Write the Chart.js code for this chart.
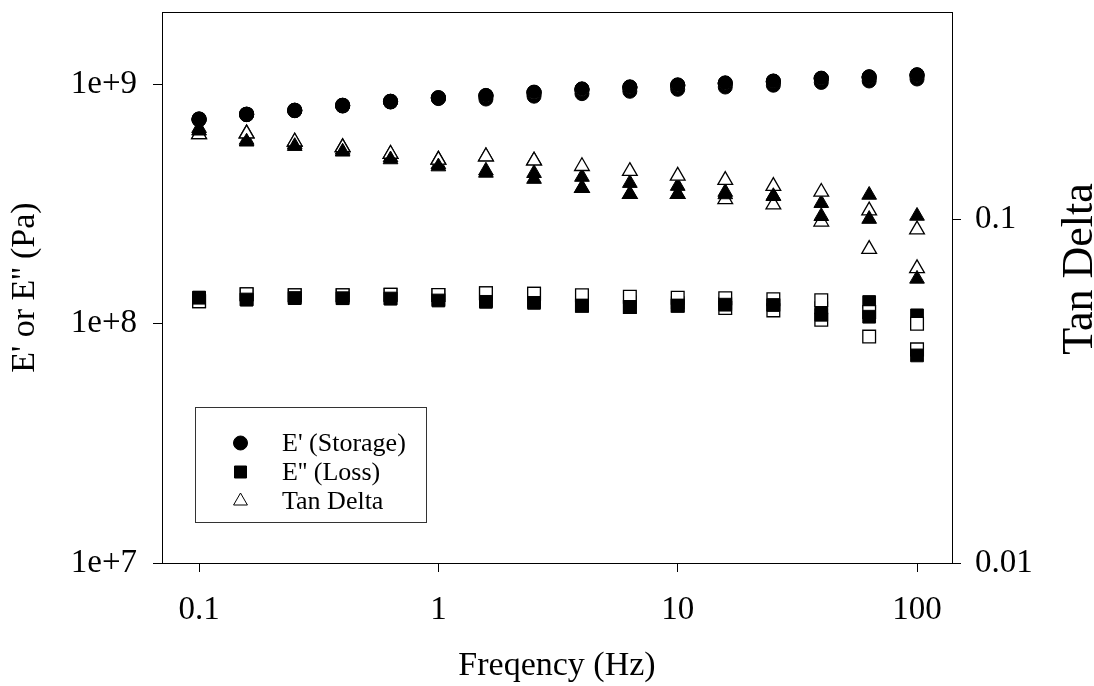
<!DOCTYPE html>
<html>
<head>
<meta charset="utf-8">
<script src="https://cdn.jsdelivr.net/npm/chart.js@4.4.0/dist/chart.umd.min.js"></script>
<style>
  html, body { margin: 0; padding: 0; background: #fff; }
  #wrap { width: 1094px; height: 686px; }
</style>
</head>
<body>
<div id="wrap"><canvas id="chart" width="1094" height="686"></canvas></div>
<script>
// frequency sweep (Hz), 5 points per decade
const freq = [0.1, 0.158, 0.251, 0.398, 0.631, 1, 1.58, 2.51, 3.98, 6.31, 10, 15.8, 25.1, 39.8, 63.1, 100];

// E' storage modulus (Pa), four runs
const storA = [7.10e8, 7.45e8, 7.74e8, 8.10e8, 8.42e8, 8.70e8, 8.66e8, 8.90e8, 9.12e8, 9.33e8, 9.51e8, 9.72e8, 9.89e8, 1.016e9, 1.030e9, 1.050e9];
const storB = [7.13e8, 7.48e8, 7.77e8, 8.14e8, 8.46e8, 8.76e8, 8.93e8, 9.21e8, 9.50e8, 9.69e8, 9.88e8, 1.007e9, 1.025e9, 1.054e9, 1.068e9, 1.089e9];
const storC = [7.13e8, 7.48e8, 7.77e8, 8.14e8, 8.46e8, 8.76e8, 8.93e8, 9.21e8, 9.50e8, 9.69e8, 9.88e8, 1.007e9, 1.025e9, 1.054e9, 1.068e9, 1.089e9];
const storD = [7.14e8, 7.49e8, 7.78e8, 8.15e8, 8.47e8, 8.77e8, 8.97e8, 9.26e8, 9.55e8, 9.74e8, 9.93e8, 1.012e9, 1.030e9, 1.059e9, 1.073e9, 1.094e9];

// E'' loss modulus (Pa)
const lossA = [1.282e8, 1.260e8, 1.278e8, 1.276e8, 1.272e8, 1.260e8, 1.245e8, 1.240e8, 1.250e8, 1.230e8, 1.222e8, 1.215e8, 1.195e8, 1.164e8, 1.230e8, 1.082e8];
const lossB = [1.238e8, 1.325e8, 1.312e8, 1.312e8, 1.320e8, 1.316e8, 1.338e8, 1.332e8, 1.312e8, 1.295e8, 1.282e8, 1.275e8, 1.263e8, 1.252e8, 1.117e8, 9.98e7];
const lossC = [1.238e8, 1.325e8, 1.312e8, 1.312e8, 1.320e8, 1.316e8, 1.338e8, 1.332e8, 1.187e8, 1.172e8, 1.187e8, 1.161e8, 1.135e8, 1.037e8, 8.82e7, 7.80e7];
const lossD = [1.282e8, 1.260e8, 1.278e8, 1.276e8, 1.272e8, 1.248e8, 1.232e8, 1.220e8, 1.187e8, 1.172e8, 1.187e8, 1.199e8, 1.195e8, 1.088e8, 1.068e8, 7.36e7];

// tan delta
const tanA = [0.1836, 0.1698, 0.1648, 0.1589, 0.1510, 0.1441, 0.1382, 0.1359, 0.1325, 0.1272, 0.1247, 0.1198, 0.1167, 0.1112, 0.1175, 0.1021];
const tanB = [0.1764, 0.1772, 0.1678, 0.1616, 0.1546, 0.1486, 0.1520, 0.1478, 0.1424, 0.1378, 0.1335, 0.1298, 0.1247, 0.1199, 0.1058, 0.0932];
const tanC = [0.1764, 0.1772, 0.1678, 0.1616, 0.1546, 0.1486, 0.1520, 0.1478, 0.1231, 0.1181, 0.1181, 0.1141, 0.1101, 0.0982, 0.0818, 0.0719];
const tanD = [0.1806, 0.1678, 0.1629, 0.1569, 0.1490, 0.1421, 0.1362, 0.1307, 0.1231, 0.1181, 0.1181, 0.1179, 0.1165, 0.1019, 0.1000, 0.0670];

// tick labels
const xTicks = [0.1, 1, 10, 100];
const yTicks = [1e7, 1e8, 1e9];
const y2Ticks = [0.01, 0.1];

const legendItems = [
    { label: "E' (Storage)", style: 'circle', filled: true },
    { label: "E'' (Loss)", style: 'rect', filled: true },
    { label: "Tan Delta", style: 'triangle', filled: false }
];

const FONT = "'Liberation Serif', 'Times New Roman', serif";

function pts(values) {
    return freq.map((f, i) => ({ x: f, y: values[i] }));
}

function makeSet(values, style, filled, axis, radius) {
    return {
        data: pts(values),
        yAxisID: axis,
        showLine: false,
        pointStyle: style,
        pointRadius: radius,
        pointHoverRadius: radius,
        pointBackgroundColor: filled ? '#000' : '#fff',
        pointBorderColor: '#000',
        pointBorderWidth: filled ? 1 : 1.3
    };
}

const runs = [
    { filled: true, stor: storA, loss: lossA, tan: tanA },
    { filled: false, stor: storB, loss: lossB, tan: tanB },
    { filled: false, stor: storC, loss: lossC, tan: tanC },
    { filled: true, stor: storD, loss: lossD, tan: tanD }
];

let datasets = [];
runs.forEach(r => {
    datasets.push(makeSet(r.stor, 'circle', r.filled, 'y', 7));
    datasets.push(makeSet(r.loss, 'rect', r.filled, 'y', 9));
    datasets.push(makeSet(r.tan, 'triangle', r.filled, 'y2', 8.5));
});
// first dataset is painted on top in Chart.js, so later runs go first
datasets.reverse();

function marker(ctx, style, filled, x, y, r) {
    ctx.beginPath();
    if (style === 'circle') {
        ctx.arc(x, y, r, 0, Math.PI * 2);
    } else if (style === 'rect') {
        ctx.rect(x - r, y - r, 2 * r, 2 * r);
    } else {
        ctx.moveTo(x, y - r);
        ctx.lineTo(x + r * 0.866, y + r * 0.5);
        ctx.lineTo(x - r * 0.866, y + r * 0.5);
        ctx.closePath();
    }
    ctx.fillStyle = filled ? '#000' : '#fff';
    ctx.fill();
    ctx.lineWidth = 1;
    ctx.strokeStyle = '#000';
    ctx.stroke();
}

const extras = {
    id: 'extras',
    afterDraw(chart) {
        const ctx = chart.ctx;
        const a = chart.chartArea;
        ctx.save();
        // plot frame
        ctx.strokeStyle = '#000';
        ctx.lineWidth = 1;
        ctx.strokeRect(Math.round(a.left) + 0.5, Math.round(a.top) + 0.5, Math.round(a.right - a.left), Math.round(a.bottom - a.top));

        // legend box
        ctx.strokeStyle = '#333';
        ctx.strokeRect(195.5, 407.5, 231, 115);
        const sizes = { circle: 7, rect: 6, triangle: 8 };
        const rowY = [443, 472, 501];
        ctx.font = '26px ' + FONT;
        ctx.textBaseline = 'alphabetic';
        ctx.textAlign = 'left';
        legendItems.forEach((it, i) => {
            marker(ctx, it.style, it.filled, 240.5, rowY[i], sizes[it.style]);
            ctx.fillStyle = '#000';
            ctx.fillText(it.label, 282, rowY[i] + 8);
        });

        // right axis title reads bottom-to-top like the left one
        ctx.translate(1092, 269);
        ctx.rotate(-Math.PI / 2);
        ctx.font = '44px ' + FONT;
        ctx.textAlign = 'center';
        ctx.textBaseline = 'alphabetic';
        ctx.fillStyle = '#000';
        ctx.fillText('Tan Delta', 0, 0);
        ctx.restore();
    }
};

const tickFont = { family: FONT, size: 33 };
const titleFont = { family: FONT, size: 34 };

function fixV(width) {
    return s => { s.width = width; s.paddingTop = 0; s.paddingBottom = 0; };
}

new Chart(document.getElementById('chart').getContext('2d'), {
    type: 'scatter',
    data: { datasets: datasets },
    options: {
        responsive: false,
        animation: false,
        devicePixelRatio: 1,
        events: [],
        layout: { autoPadding: false, padding: { top: 12, left: 0, right: 0, bottom: 0 } },
        plugins: { legend: { display: false }, tooltip: { enabled: false } },
        scales: {
            x: {
                type: 'logarithmic',
                position: 'bottom',
                min: 0.07,
                max: 140,
                afterBuildTicks: s => { s.ticks = xTicks.map(v => ({ value: v })); },
                afterFit: s => { s.height = 123; s.paddingLeft = 0; s.paddingRight = 0; },
                ticks: {
                    callback: v => String(v),
                    font: tickFont,
                    color: '#000',
                    padding: 19,
                    maxRotation: 0,
                    autoSkip: false
                },
                grid: { drawOnChartArea: false, tickLength: 9, color: '#000' },
                border: { color: '#000', width: 1 },
                title: { display: true, text: 'Freqency (Hz)', font: titleFont, color: '#000', padding: 0 }
            },
            y: {
                type: 'logarithmic',
                position: 'left',
                min: 1e7,
                max: 2e9,
                afterBuildTicks: s => { s.ticks = yTicks.map(v => ({ value: v })); },
                afterFit: fixV(162),
                ticks: {
                    callback: v => '1e+' + Math.round(Math.log10(v)),
                    font: tickFont,
                    color: '#000',
                    padding: 16,
                    autoSkip: false
                },
                grid: { drawOnChartArea: false, tickLength: 9, color: '#000' },
                border: { color: '#000', width: 1 },
                title: { display: true, text: "E' or E'' (Pa)", font: titleFont, color: '#000', padding: { top: 5, bottom: 0 } }
            },
            y2: {
                type: 'logarithmic',
                position: 'right',
                min: 0.01,
                max: 0.4,
                afterBuildTicks: s => { s.ticks = y2Ticks.map(v => ({ value: v })); },
                afterFit: fixV(142),
                ticks: {
                    callback: v => String(v),
                    font: tickFont,
                    color: '#000',
                    padding: 14,
                    autoSkip: false
                },
                grid: { drawOnChartArea: false, tickLength: 9, color: '#000' },
                border: { color: '#000', width: 1 }
            }
        }
    },
    plugins: [extras]
});
</script>
</body>
</html>
